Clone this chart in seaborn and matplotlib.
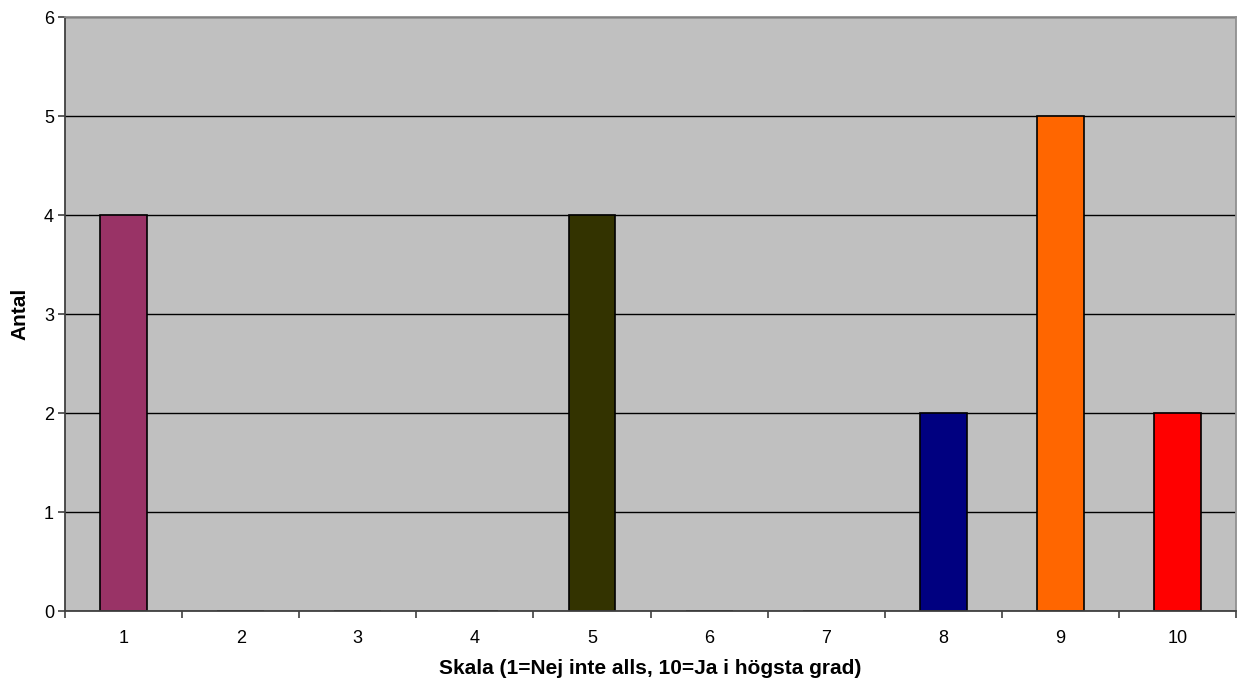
import numpy as np
import pandas as pd
import seaborn as sns
import matplotlib.pyplot as plt

categories = ["1", "2", "3", "4", "5", "6", "7", "8", "9", "10"]
antal = [4, 0, 0, 0, 4, 0, 0, 2, 5, 2]
bar_colors = ["#993366", "#C0C0C0", "#C0C0C0", "#C0C0C0", "#333300",
              "#C0C0C0", "#C0C0C0", "#000080", "#FF6600", "#FF0000"]

df = pd.DataFrame({"skala": categories, "antal": antal})

sns.set_style("white")
plt.rcParams["font.family"] = ["Liberation Sans", "DejaVu Sans"]
plt.rcParams["text.color"] = "black"
plt.rcParams["axes.labelcolor"] = "black"
plt.rcParams["xtick.color"] = "black"
plt.rcParams["ytick.color"] = "black"

fig = plt.figure(figsize=(12.46, 6.86), dpi=100)
ax = fig.add_axes([0.0522, 0.1093, 0.9398, 0.8659])
ax.set_facecolor("#C0C0C0")

sns.barplot(data=df, x="skala", y="antal", hue="skala", palette=bar_colors,
            legend=False, width=0.4, saturation=1, edgecolor="black",
            linewidth=1.2, ax=ax)

ax.set_ylim(0, 6)
ax.set_xlim(-0.5, 9.5)
ax.set_yticks(range(0, 7))
ax.yaxis.grid(True, color="black", linewidth=1)
ax.set_axisbelow(True)

# tick marks between categories, like Excel
ax.set_xticks(np.arange(-0.5, 10, 1), minor=True)
ax.tick_params(axis="x", which="major", bottom=True, length=0, pad=14, labelsize=13)
ax.tick_params(axis="x", which="minor", bottom=True, length=5, width=1.2,
               color="#404040", direction="out")
ax.tick_params(axis="y", left=True, length=5, width=1.2, color="#404040",
               direction="out", labelsize=13, pad=3)

for side in ["left", "bottom"]:
    ax.spines[side].set_color("#404040")
    ax.spines[side].set_linewidth(1.3)
for side in ["top", "right"]:
    ax.spines[side].set_color("#909090")
    ax.spines[side].set_linewidth(1.3)

ax.set_xlabel("Skala (1=Nej inte alls, 10=Ja i högsta grad)", fontsize=15,
              fontweight="bold", labelpad=8)
ax.set_ylabel("Antal", fontsize=15, fontweight="bold", labelpad=10)

fig.savefig("out.png", dpi=100)
